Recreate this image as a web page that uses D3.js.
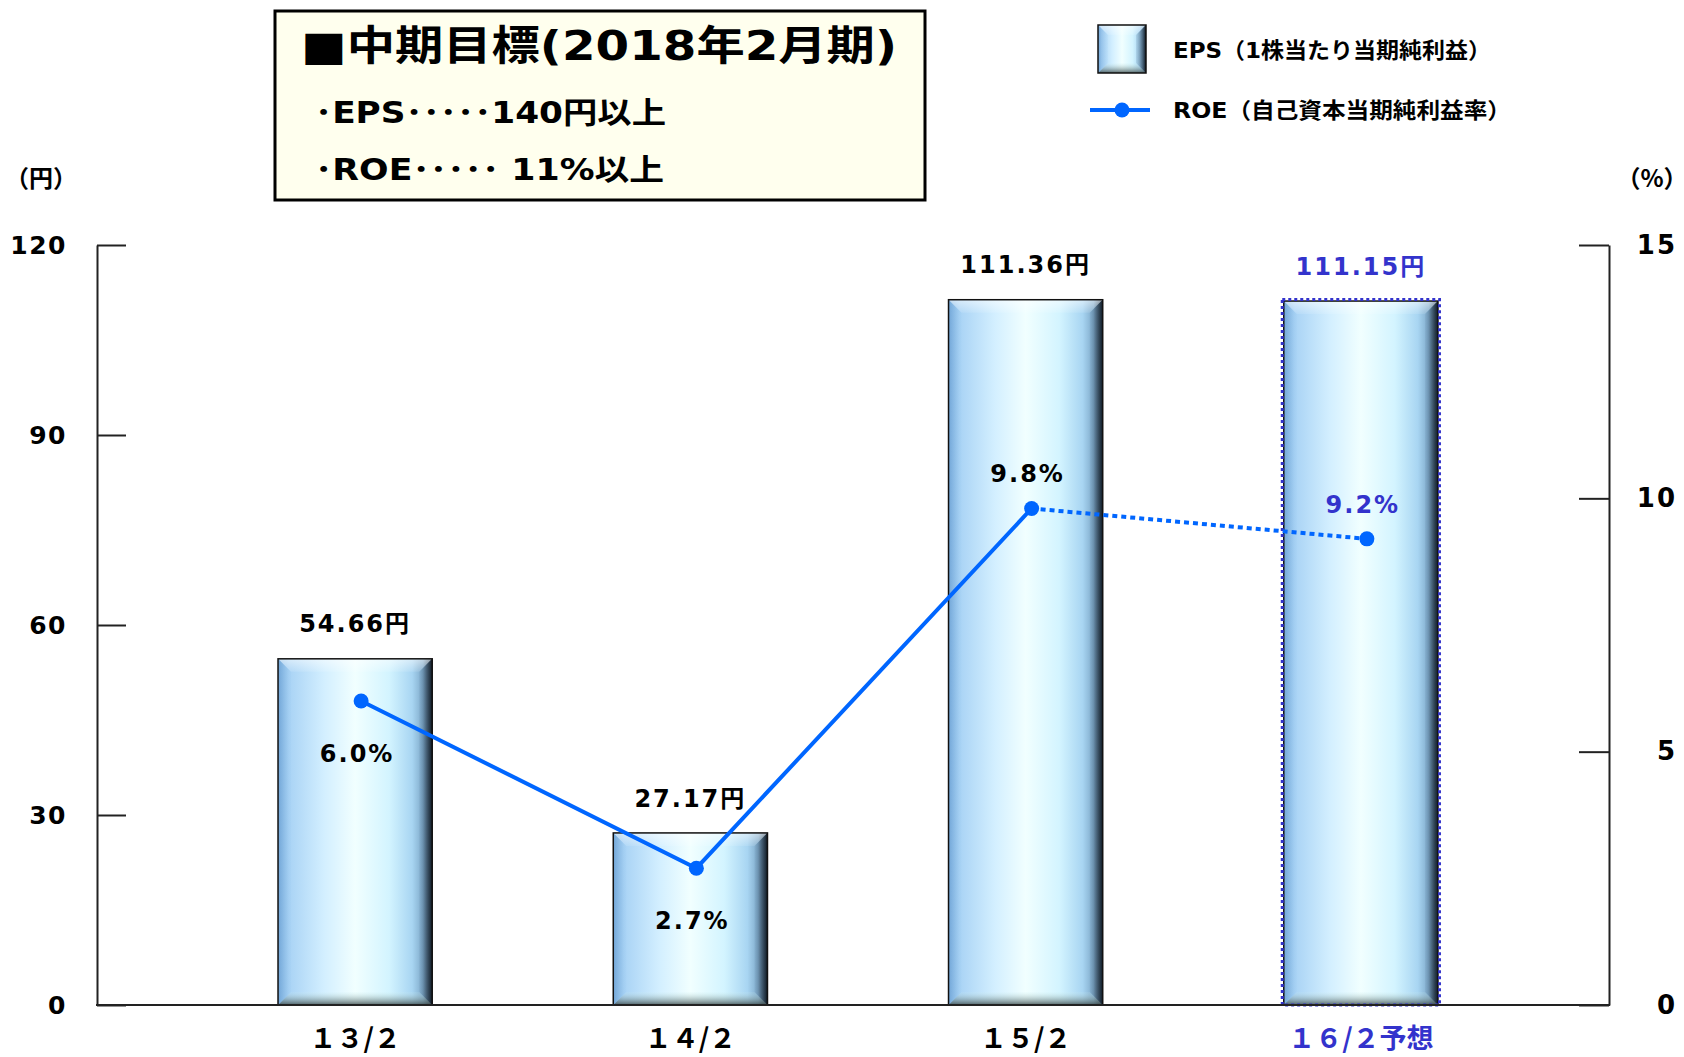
<!DOCTYPE html>
<html><head><meta charset="utf-8">
<script src="https://cdn.jsdelivr.net/npm/d3@7"></script>
<style>body{margin:0;background:#fff}svg{display:block}.halt{font-feature-settings:"halt" 1}</style>
</head><body>
<svg id="c" width="1684" height="1057"></svg>
<script>
// ---- data ----
const categories = ["13/2", "14/2", "15/2", "16/2"];
const categoryLabels = ["１３/２", "１４/２", "１５/２", "１６/２予想"];
const epsValues = [54.66, 27.17, 111.36, 111.15];
const epsLabels = ["54.66円", "27.17円", "111.36円", "111.15円"];
const roeValues = [6.0, 2.7, 9.8, 9.2];
const roeLabels = ["6.0%", "2.7%", "9.8%", "9.2%"];
const isForecast = [false, false, false, true];
const leftTicks = [0, 30, 60, 90, 120];
const rightTicks = [0, 5, 10, 15];
const titleLines = ["■中期目標(2018年2月期)", "･EPS･････140円以上", "･ROE･････ 11%以上"];
const legendLabels = ["EPS（1株当たり当期純利益）", "ROE（自己資本当期純利益率）"];
const unitLabels = ["（円）", "（%）"];

// ---- style ----
const F = "'DejaVu Sans','Noto Sans CJK JP',sans-serif";
const FJ = "'Noto Sans CJK JP',sans-serif";
const BLUE_TXT = "#3333CC";
const LINE = "#0066FF";
const svg = d3.select("#c");
const M = {left: 97, right: 1609, top: 245, bottom: 1005};

const yL = d3.scaleLinear().domain([0, 120]).range([M.bottom, M.top]);
const yR = d3.scaleLinear().domain([0, 15]).range([M.bottom, M.top]);
const x = d3.scaleBand().domain(categories).range([187.5, 1528.5]).paddingInner(0.54).paddingOuter(0.27);
const bw = x.bandwidth();

// ---- gradients ----
const defs = svg.append("defs");
function lin(id, x2, y2, stops) {
  const g = defs.append("linearGradient").attr("id", id).attr("x1", 0).attr("y1", 0).attr("x2", x2).attr("y2", y2);
  stops.forEach(s => g.append("stop").attr("offset", s[0]).attr("stop-color", s[1]).attr("stop-opacity", s[2] == null ? 1 : s[2]));
}
lin("barH", 1, 0, [[0, "#86b8e4"], [0.07, "#a9d3f5"], [0.3, "#d3efff"], [0.5, "#f1ffff"], [0.72, "#d3f4ff"], [0.87, "#a8d5f2"], [0.94, "#7ea9c9"], [1, "#253240"]]);
lin("bevTop", 0, 1, [[0, "#ffffff", 0.55], [1, "#ffffff", 0.1]]);
lin("bevBot", 0, 1, [[0, "#d0f0f0", 0.1], [1, "#3c4a4a", 0.85]]);
lin("bevRight", 1, 0, [[0, "#6a90b0", 0.2], [1, "#0e1822", 0.9]]);
lin("bevLeft", 1, 0, [[0, "#5a90c8", 0.45], [1, "#8cc0ea", 0.1]]);

function bevelBox(g, w, h, b) {
  g.append("rect").attr("width", w).attr("height", h).attr("fill", "url(#barH)");
  const bb = Math.min(b, h / 2);
  g.append("polygon").attr("points", `0,0 ${w},0 ${w - bb},${bb} ${bb},${bb}`).attr("fill", "url(#bevTop)");
  g.append("polygon").attr("points", `0,${h} ${w},${h} ${w - bb},${h - bb} ${bb},${h - bb}`).attr("fill", "url(#bevBot)");
  g.append("polygon").attr("points", `${w},0 ${w},${h} ${w - bb},${h - bb} ${w - bb},${bb}`).attr("fill", "url(#bevRight)");
  g.append("polygon").attr("points", `0,0 0,${h} ${bb},${h - bb} ${bb},${bb}`).attr("fill", "url(#bevLeft)");
  g.append("rect").attr("width", w).attr("height", h).attr("fill", "none").attr("stroke", "#111").attr("stroke-width", 1.5);
}

// ---- title box ----
svg.append("rect").attr("x", 275).attr("y", 11).attr("width", 650).attr("height", 189)
  .attr("fill", "#FFFFEE").attr("stroke", "#000").attr("stroke-width", 3);
svg.append("text").attr("x", 301).attr("y", 60).attr("font-family", F).attr("font-weight", "bold")
  .attr("font-size", 41).attr("textLength", 596).attr("lengthAdjust", "spacingAndGlyphs").text(titleLines[0]);
svg.append("text").attr("x", 315).attr("y", 123).attr("font-family", F).attr("font-weight", "bold")
  .attr("font-size", 30).attr("textLength", 351).attr("lengthAdjust", "spacingAndGlyphs").text(titleLines[1]);
svg.append("text").attr("x", 315).attr("y", 180).attr("font-family", F).attr("font-weight", "bold")
  .attr("font-size", 30).attr("textLength", 349).attr("lengthAdjust", "spacingAndGlyphs").text(titleLines[2]);

// ---- legend ----
const lg1 = svg.append("g").attr("transform", "translate(1098,25)");
bevelBox(lg1, 48, 48, 10);
svg.append("text").attr("x", 1173).attr("y", 58).attr("font-family", F).attr("font-weight", "bold")
  .attr("font-size", 22).attr("textLength", 318).attr("lengthAdjust", "spacingAndGlyphs").text(legendLabels[0]);
svg.append("line").attr("x1", 1090).attr("x2", 1150).attr("y1", 110).attr("y2", 110).attr("stroke", LINE).attr("stroke-width", 4);
svg.append("circle").attr("cx", 1122).attr("cy", 110).attr("r", 7.5).attr("fill", LINE);
svg.append("text").attr("x", 1173).attr("y", 118).attr("font-family", F).attr("font-weight", "bold")
  .attr("font-size", 22).attr("textLength", 338).attr("lengthAdjust", "spacingAndGlyphs").text(legendLabels[1]);

// ---- unit labels ----
svg.append("text").attr("class", "halt").attr("x", 41).attr("y", 187).attr("text-anchor", "middle")
  .attr("font-family", FJ).attr("font-weight", "bold").attr("font-size", 24).text(unitLabels[0]);
svg.append("text").attr("class", "halt").attr("x", 1652).attr("y", 187).attr("text-anchor", "middle")
  .attr("font-family", FJ).attr("font-weight", "bold").attr("font-size", 24).text(unitLabels[1]);

// ---- bars ----
const bars = svg.append("g");
categories.forEach((c, i) => {
  const v = epsValues[i];
  const g = bars.append("g").attr("transform", `translate(${x(c)},${yL(v)})`);
  bevelBox(g, bw, yL(0) - yL(v), 13);
  if (isForecast[i]) {
    g.append("rect").attr("x", -1.5).attr("y", -1.5).attr("width", bw + 3).attr("height", yL(0) - yL(v) + 1.5)
      .attr("fill", "none").attr("stroke", BLUE_TXT).attr("stroke-width", 3).attr("stroke-dasharray", "3,3");
  }
  svg.append("text").attr("x", x(c) + bw / 2).attr("y", yL(v) - 35).attr("dy", "0.36em")
    .attr("text-anchor", "middle").attr("font-family", F).attr("font-weight", "bold").attr("font-size", 24)
    .attr("letter-spacing", 2).attr("fill", isForecast[i] ? BLUE_TXT : "#000").text(epsLabels[i]);
});

// ---- axes ----
const axL = svg.append("g").attr("transform", `translate(${M.left},0)`)
  .call(d3.axisLeft(yL).tickValues(leftTicks).tickSize(-29).tickSizeOuter(0).tickPadding(30));
const axR = svg.append("g").attr("transform", `translate(${M.right},0)`)
  .call(d3.axisRight(yR).tickValues(rightTicks).tickSize(-30).tickSizeOuter(0).tickPadding(68));
[axL, axR].forEach(a => {
  a.select(".domain").attr("stroke", "#222").attr("stroke-width", 2);
  a.selectAll(".tick line").attr("stroke", "#222").attr("stroke-width", 2);
  a.selectAll(".tick text").attr("font-family", F).attr("font-weight", "bold").attr("font-size", 25)
    .attr("letter-spacing", 1.5).attr("fill", "#000");
});
axR.selectAll(".tick text").attr("text-anchor", "end").attr("font-size", 26).attr("letter-spacing", 2);
svg.append("line").attr("x1", M.left - 1).attr("x2", M.right + 1).attr("y1", yL(0)).attr("y2", yL(0))
  .attr("stroke", "#222").attr("stroke-width", 2);

const axB = svg.append("g").attr("transform", `translate(0,${M.bottom})`)
  .call(d3.axisBottom(x).tickSize(0).tickPadding(24).tickFormat((d, i) => categoryLabels[i]));
axB.select(".domain").remove();
axB.selectAll(".tick text").attr("font-family", FJ).attr("font-weight", "bold")
  .attr("font-size", 27).attr("fill", (d, i) => isForecast[i] ? BLUE_TXT : "#000");

// ---- ROE line ----
const px = c => x(c) + bw / 2 + 6;
const pts = categories.map((c, i) => [px(c), yR(roeValues[i]), isForecast[i]]);
const line = d3.line();
const actualPts = pts.filter(p => !p[2]);
svg.append("path").attr("d", line(actualPts.map(p => [p[0], p[1]]))).attr("fill", "none")
  .attr("stroke", LINE).attr("stroke-width", 4);
const firstF = pts.findIndex(p => p[2]);
svg.append("path").attr("d", line([pts[firstF - 1], pts[firstF]].map(p => [p[0], p[1]]))).attr("fill", "none")
  .attr("stroke", LINE).attr("stroke-width", 4).attr("stroke-dasharray", "5,4");
svg.selectAll("circle.roe").data(pts).enter().append("circle").attr("class", "roe")
  .attr("cx", d => d[0]).attr("cy", d => d[1]).attr("r", 7.5).attr("fill", LINE);

const roeLabelSide = [1, 1, -1, -1];
categories.forEach((c, i) => {
  const off = roeLabelSide[i] > 0 ? 52 : -35;
  svg.append("text").attr("x", px(c) - 4).attr("y", yR(roeValues[i]) + off).attr("dy", "0.36em")
    .attr("text-anchor", "middle").attr("font-family", F).attr("font-weight", "bold").attr("font-size", 24)
    .attr("letter-spacing", 2).attr("fill", isForecast[i] ? BLUE_TXT : "#000").text(roeLabels[i]);
});
</script>
</body></html>
